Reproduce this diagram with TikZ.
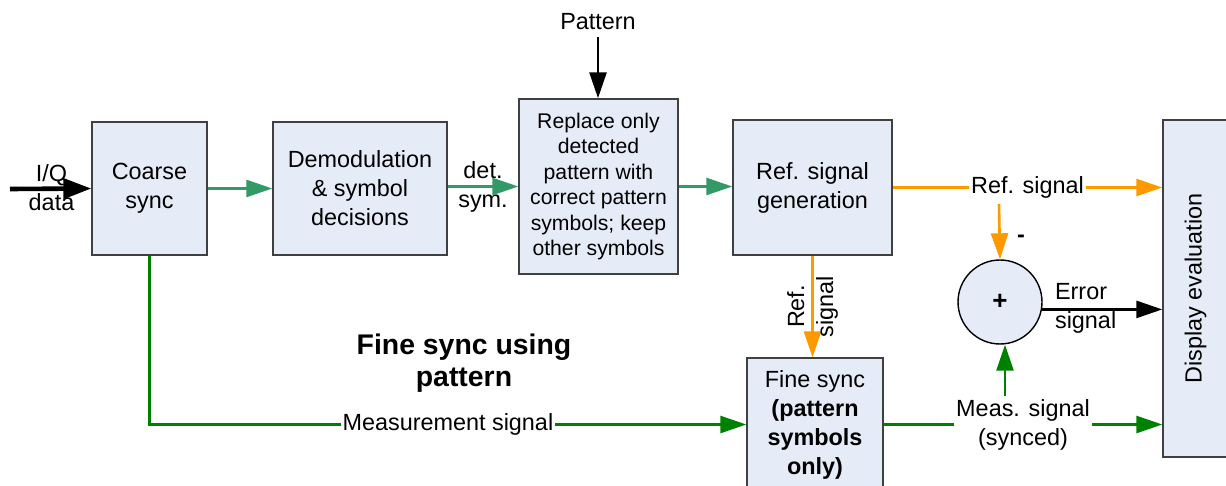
\documentclass[tikz,border=0pt]{standalone}
\usepackage{fontspec}
\setmainfont{Liberation Sans}
\usetikzlibrary{arrows.meta}

\definecolor{boxfill}{HTML}{E6ECF7}
\definecolor{boxline}{HTML}{404040}
\definecolor{flowgreen}{HTML}{339966}
\definecolor{measgreen}{HTML}{008000}
\definecolor{refOrange}{HTML}{FF9900}

\tikzset{
  block/.style={draw=boxline, line width=0.7pt, fill=boxfill, align=center, inner sep=2pt},
  flow/.style={flowgreen, line width=1.3pt, -{Triangle[length=13pt,width=8.5pt]}},
  meas/.style={measgreen, line width=1.3pt, -{Triangle[length=13pt,width=8.5pt]}},
  refline/.style={refOrange, line width=1.3pt, -{Triangle[length=13pt,width=8.5pt]}},
  blackline/.style={black, line width=1.3pt, -{Triangle[length=13pt,width=8.5pt]}},
  lbl/.style={fill=white, text=black, inner sep=1pt, align=center},
}

\begin{document}
\begin{tikzpicture}[x=0.5pt, y=-0.5pt, font=\fontsize{11.7}{14.5}\selectfont]
    \useasboundingbox (0,0) rectangle (1226,486);

    % Blocks
    \node[block, minimum width=57.5pt, minimum height=66.5pt] (coarse) at (149.5,188.5) {Coarse\\sync};
    \node[block, minimum width=87pt, minimum height=66.5pt] (demod) at (360,188.5) {Demodulation\\\& symbol\\decisions};
    \node[block, minimum width=79.5pt, minimum height=87.5pt, font=\fontsize{10.6}{12.7}\selectfont] (replace) at (598.5,186.5)
        {Replace only\\detected\\pattern with\\correct pattern\\symbols; keep\\other symbols};
    \node[block, minimum width=79.5pt, minimum height=67.5pt] (refgen) at (812.5,187.5) {Ref. signal\\generation};
    \node[block, minimum width=68pt, minimum height=66.5pt] (finesync) at (815,424.5)
        {Fine sync\\\textbf{(pattern}\\\textbf{symbols}\\\textbf{only)}};
    \node[block, minimum width=32.5pt, minimum height=168.5pt] (disp) at (1195.5,288.5) {};
    \node[rotate=90] (disptext) at (disp.center) {Display evaluation};
    \node[circle, draw=black, line width=0.7pt, fill=boxfill, minimum size=42pt, inner sep=0pt, font=\fontsize{13}{14.5}\selectfont] (sum) at (1000,302) {\textbf{+}};

    % Free texts
    \node (pattern) at (598,22) {Pattern};
    \node[align=center] (iqlbl) at (51.5,188) {I/Q\\data};
    \node[align=center] (detsym) at (483,187) {det.\\sym.};
    \node (minus) at (1021,239) {\textbf{-}};
    \node[anchor=west, align=left] (errlbl) at (1048,308.5) {Error\\signal};
    \node[align=center, font=\fontsize{14.2}{16}\selectfont\bfseries] (title) at (464,363) {Fine sync using\\pattern};

    % Input
    \coordinate (iqin) at (10,189);
    \draw[line width=2.3pt, -{Triangle[length=14pt,width=10pt]}] (iqin) -- (coarse.west);
    \draw[blackline] (pattern.south) -- (pattern.south |- replace.north);

    % Main chain
    \draw[flow] (coarse.east) -- (demod.west);
    \draw[flow] (demod.east |- replace.west) -- (replace.west);
    \draw[flow] (replace.east) -- (replace.east -| refgen.west);

    % Reference signal
    \draw[refline] (refgen.east) -- node[lbl] (refsig) {Ref. signal} (refgen.east -| disp.west);
    \coordinate (refbr) at (999,204);
    \draw[refline] (refbr) -- (sum.north);
    \draw[refline] (refgen.south) -- node[rotate=90, align=center, text=black] (refsigv) {Ref.\\signal} (refgen.south |- finesync.north);

    % Measurement signal
    \draw[meas] (coarse.south) -- (coarse.south |- finesync.west) -- node[lbl] (measlbl) {Measurement signal} (finesync.west);
    \draw[meas] (finesync.east) -- node[lbl] (synclbl) {Meas. signal\\(synced)} (finesync.east -| disp.west);
    \coordinate (measbr) at (1005,396);
    \draw[meas] (measbr) -- (measbr |- sum.south);

    % Error signal
    \draw[blackline] (sum.-10) -- (sum.-10 -| disp.west);
\end{tikzpicture}
\end{document}
